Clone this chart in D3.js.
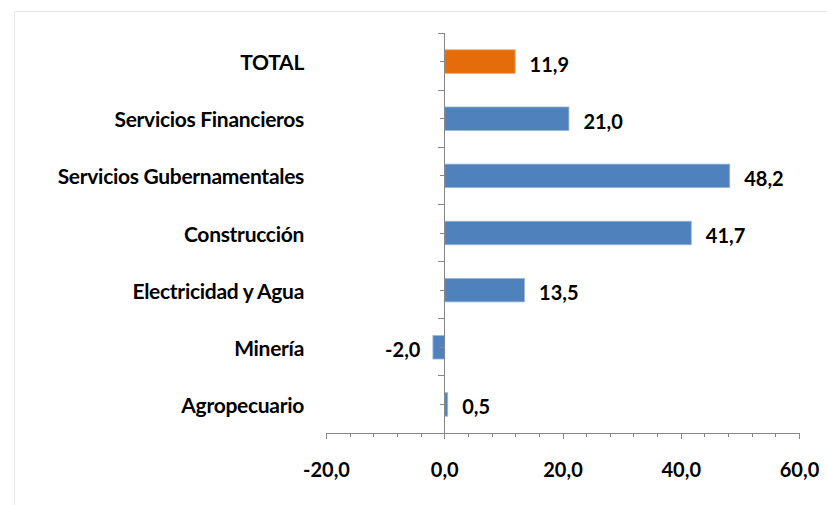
<!DOCTYPE html>
<html>
<head>
<meta charset="utf-8">
<script src="https://cdn.jsdelivr.net/npm/d3@7"></script>
<style>
  body { margin: 0; background: #fff; }
  text { font-family: Lato, "Open Sans", sans-serif; font-weight: bold; fill: #000; }
</style>
</head>
<body>
<div id="plot-area"></div>
<script>
// data (top to bottom)
const categories = ["TOTAL", "Servicios Financieros", "Servicios Gubernamentales",
  "Construcción", "Electricidad y Agua", "Minería", "Agropecuario"]
const values = [11.9, 21.0, 48.2, 41.7, 13.5, -2.0, 0.5]
const highlight = ["TOTAL"]
const xTicks = [-20, 0, 20, 40, 60]

const width = 827
const height = 505

const svg = d3.select("#plot-area").append("svg")
  .attr("width", width)
  .attr("height", height)

// faint chart-area frame
svg.append("path")
  .attr("d", "M14.5," + height + "V11.5H" + width)
  .attr("fill", "none")
  .attr("stroke", "#e6e6e6")

const xScale = d3.scaleLinear()
  .domain([-20, 60])
  .range([326, 799])

const yScale = d3.scaleBand()
  .domain(categories)
  .range([33, 433])

const fmt = v => d3.format(".1f")(v).replace("\u2212", "-").replace(".", ",")
const axisColor = "#868686"

// minor x ticks
const xAxisMinor = d3.axisBottom(xScale)
  .tickValues(d3.range(-20, 60.1, 4))
  .tickSize(4)
  .tickFormat("")

svg.append("g")
  .attr("class", "axis x-minor")
  .attr("transform", "translate(0," + 433 + ")")
  .call(xAxisMinor)

const xAxis = d3.axisBottom(xScale)
  .tickValues(xTicks)
  .tickSize(6)
  .tickSizeOuter(0)
  .tickPadding(24)
  .tickFormat(fmt)

svg.append("g")
  .attr("class", "axis x-axis")
  .attr("transform", "translate(0," + 433 + ")")
  .call(xAxis)

// bars
const barH = 23.5
svg.append("g").selectAll("rect")
  .data(values).enter()
  .append("rect")
  .attr("x", (d) => xScale(Math.min(0, d)) + 0.5)
  .attr("y", (d, i) => yScale(categories[i]) + yScale.bandwidth() / 2 - barH / 2)
  .attr("width", (d) => Math.abs(xScale(d) - xScale(0)))
  .attr("height", barH)
  .attr("fill", (d, i) => highlight.includes(categories[i]) ? "#e46c0a" : "#4f81bd")
  .attr("stroke", (d, i) => highlight.includes(categories[i]) ? "#f3a467" : "#9ab7da")
  .attr("stroke-width", 0.8)

// value labels
svg.append("g").selectAll("text")
  .data(values).enter()
  .append("text")
  .attr("x", (d) => d < 0 ? xScale(d) - 12 : xScale(d) + 15)
  .attr("y", (d, i) => yScale(categories[i]) + yScale.bandwidth() / 2 + 10)
  .attr("text-anchor", (d) => d < 0 ? "end" : "start")
  .attr("font-size", 20)
  .text(fmt)

// category labels
svg.append("g").selectAll("text")
  .data(categories).enter()
  .append("text")
  .attr("x", 304)
  .attr("y", (d) => yScale(d) + yScale.bandwidth() / 2 + 8.5)
  .attr("text-anchor", "end")
  .attr("font-size", 21)
  .attr("letter-spacing", -0.3)
  .text((d) => d)

// vertical category axis: long ticks between categories, short at centres
const yAxisG = svg.append("g").attr("class", "axis y-axis")
yAxisG.append("line")
  .attr("x1", xScale(0)).attr("x2", xScale(0))
  .attr("y1", 33).attr("y2", 433)
yAxisG.selectAll(".between")
  .data(categories).enter()
  .append("line")
  .attr("x1", xScale(0) - 6).attr("x2", xScale(0))
  .attr("y1", (d) => yScale(d)).attr("y2", (d) => yScale(d))
yAxisG.selectAll(".mid")
  .data(categories).enter()
  .append("line")
  .attr("x1", xScale(0) - 4).attr("x2", xScale(0))
  .attr("y1", (d) => yScale(d) + yScale.bandwidth() / 2)
  .attr("y2", (d) => yScale(d) + yScale.bandwidth() / 2)

svg.selectAll(".axis line, .axis path")
  .attr("stroke", axisColor)
  .attr("shape-rendering", "crispEdges")
svg.selectAll(".x-axis text")
  .attr("font-size", 20)
  .attr("fill", "#000")
  .attr("font-family", "Lato, sans-serif")
  .attr("font-weight", "bold")
</script>
</body>
</html>
